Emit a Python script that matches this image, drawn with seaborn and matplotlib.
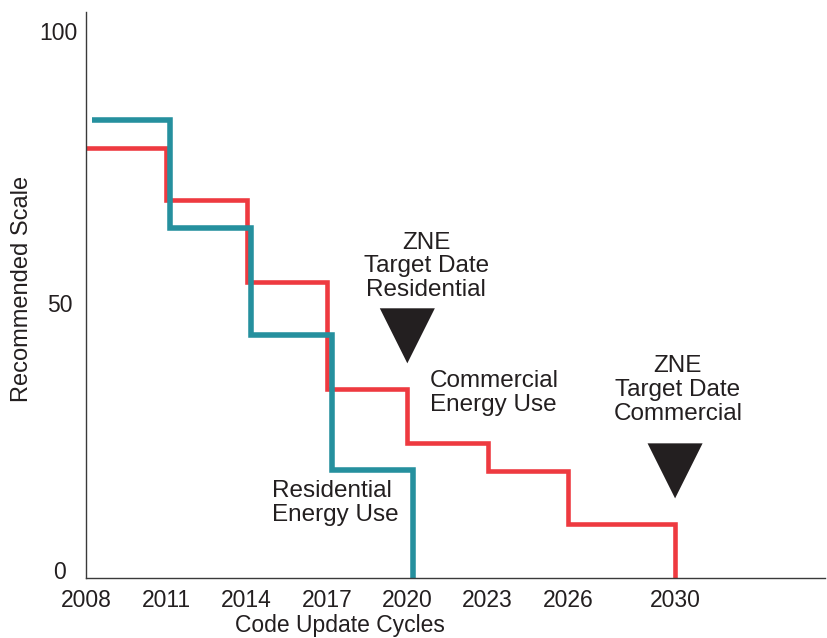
import pandas as pd
import seaborn as sns
import matplotlib

matplotlib.use("Agg")
import matplotlib.pyplot as plt
import matplotlib.transforms as mtransforms

# Commercial energy use (red step line)
commercial_years = [2008, 2011, 2014, 2017, 2020, 2023, 2026, 2030]
commercial_scale = [78.6, 69.1, 54.1, 34.6, 24.7, 19.6, 9.9, 0]

# Residential energy use (teal step line, drawn slightly offset)
residential_years = [2008.22, 2011.13, 2014.16, 2017.18, 2020.2]
residential_scale = [83.7, 64.0, 44.4, 19.7, 0]

# ZNE target markers
target_years = [2020, 2030]
target_scale = [44.3, 19.6]
target_labels = ["ZNE\nTarget Date\nResidential", "ZNE\nTarget Date\nCommercial"]

tick_years = [2008, 2011, 2014, 2017, 2020, 2023, 2026, 2030]
y_ticks = [0, 50, 100]

RED = "#ee3a40"
TEAL = "#25909e"
DARK = "#231f20"

sns.set_style("white")
plt.rcParams["font.family"] = ["Liberation Sans", "DejaVu Sans"]

fig = plt.figure(figsize=(8.28, 6.38), dpi=100)
ax = fig.add_axes([0.1039, 0.094, 0.8925, 0.887])

df_c = pd.DataFrame({"year": commercial_years, "scale": commercial_scale})
df_r = pd.DataFrame({"year": residential_years, "scale": residential_scale})
df_t = pd.DataFrame({"year": target_years, "scale": target_scale})

sns.lineplot(data=df_c, x="year", y="scale", color=RED, linewidth=3.3,
             drawstyle="steps-post", estimator=None, sort=False, ax=ax,
             solid_capstyle="butt", solid_joinstyle="miter", clip_on=False)
sns.lineplot(data=df_r, x="year", y="scale", color=TEAL, linewidth=4.0,
             drawstyle="steps-post", estimator=None, sort=False, ax=ax,
             solid_capstyle="butt", solid_joinstyle="miter", clip_on=False)
sns.scatterplot(data=df_t, x="year", y="scale", marker="v", s=1570,
                color=DARK, edgecolor="none", ax=ax, clip_on=False)

ax.set_xlim(2008, 2035.6)
ax.set_ylim(0, 103.5)
ax.set_xticks(tick_years)
ax.set_xticklabels([str(y) for y in tick_years])
ax.set_yticks(y_ticks)
ax.tick_params(axis="both", length=0, labelsize=16.5, labelcolor="#231f20")
ax.tick_params(axis="x", pad=8)
ax.tick_params(axis="y", pad=6)

# the y tick labels sit a little irregularly in the original
shifts = [(-12, 8), (-5, 2), (0, 0)]
for tick, (dx, dy) in zip(ax.yaxis.get_major_ticks(), shifts):
    off = mtransforms.ScaledTranslation(dx / 100, dy / 100, fig.dpi_scale_trans)
    tick.label1.set_transform(tick.label1.get_transform() + off)

sns.despine(ax=ax)
for side in ["left", "bottom"]:
    ax.spines[side].set_color("#3a3a3a")
    ax.spines[side].set_linewidth(1.0)

ax.set_xlabel("Code Update Cycles", fontsize=16.5, color=DARK)
ax.set_ylabel("Recommended Scale", fontsize=17, color=DARK)
ax.xaxis.set_label_coords(0.344, -0.064)
ax.yaxis.set_label_coords(-0.072, 0.51)

text_kw = dict(fontsize=17.5, color=DARK, linespacing=1.1)
ax.text(2020.7, 57.0, target_labels[0], ha="center", va="center", **text_kw)
ax.text(2030.1, 34.4, target_labels[1], ha="center", va="center", **text_kw)
ax.text(2020.85, 33.8, "Commercial\nEnergy Use", ha="left", va="center", **text_kw)
ax.text(2014.95, 13.7, "Residential\nEnergy Use", ha="left", va="center", **text_kw)

fig.savefig("out.png", dpi=100, facecolor="white")
plt.close()
